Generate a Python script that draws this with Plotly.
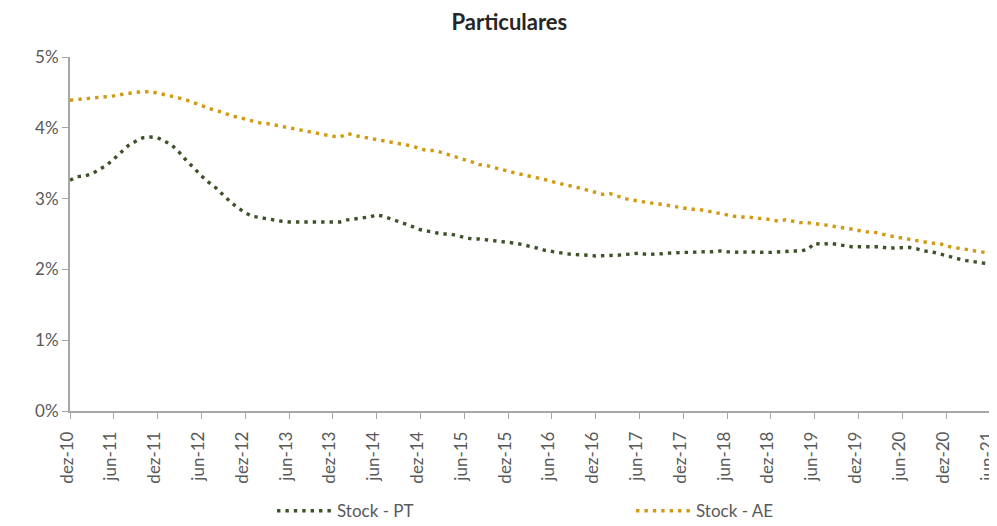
import plotly.graph_objects as go

# Monthly observations, dez-10 .. jun-21
months_pt = ["jan", "fev", "mar", "abr", "mai", "jun", "jul", "ago", "set", "out", "nov", "dez"]
start_year, start_month = 2010, 12
n_months = 127

stock_pt = [
    3.26, 3.31, 3.32, 3.35, 3.41, 3.47, 3.56, 3.65, 3.75, 3.81, 3.86, 3.87,
    3.86, 3.81, 3.75, 3.65, 3.53, 3.43, 3.32, 3.23, 3.15, 3.05, 2.95, 2.87,
    2.80, 2.75, 2.73, 2.72, 2.69, 2.68, 2.67, 2.67, 2.66, 2.66, 2.66, 2.66,
    2.66, 2.67, 2.70, 2.71, 2.72, 2.74, 2.77, 2.75, 2.71, 2.68, 2.64, 2.60,
    2.56, 2.54, 2.52, 2.50, 2.50, 2.48, 2.45, 2.43, 2.43, 2.42, 2.41, 2.40,
    2.38, 2.37, 2.35, 2.33, 2.30, 2.27, 2.25, 2.23, 2.22, 2.21, 2.21, 2.20,
    2.19, 2.19, 2.19, 2.20, 2.21, 2.22, 2.23, 2.21, 2.21, 2.22, 2.23, 2.24,
    2.24, 2.24, 2.25, 2.25, 2.25, 2.26, 2.25, 2.24, 2.24, 2.25, 2.24, 2.24,
    2.24, 2.25, 2.26, 2.26, 2.26, 2.28, 2.37, 2.35, 2.37, 2.35, 2.33, 2.32,
    2.32, 2.32, 2.33, 2.32, 2.30, 2.30, 2.31, 2.31, 2.29, 2.26, 2.25, 2.22,
    2.19, 2.16, 2.14, 2.12, 2.10, 2.09, 2.08,
]

stock_ae = [
    4.39, 4.40, 4.41, 4.42, 4.43, 4.43, 4.45, 4.47, 4.49, 4.50, 4.51, 4.51,
    4.49, 4.47, 4.45, 4.42, 4.39, 4.35, 4.32, 4.28, 4.24, 4.22, 4.17, 4.15,
    4.12, 4.09, 4.07, 4.06, 4.04, 4.02, 4.00, 3.97, 3.95, 3.93, 3.92, 3.89,
    3.88, 3.87, 3.92, 3.89, 3.87, 3.86, 3.84, 3.81, 3.79, 3.78, 3.76, 3.74,
    3.70, 3.68, 3.68, 3.65, 3.61, 3.58, 3.56, 3.52, 3.48, 3.47, 3.44, 3.42,
    3.39, 3.36, 3.34, 3.32, 3.29, 3.27, 3.24, 3.21, 3.19, 3.17, 3.14, 3.12,
    3.09, 3.06, 3.07, 3.03, 3.00, 2.98, 2.96, 2.94, 2.93, 2.92, 2.90, 2.89,
    2.86, 2.85, 2.85, 2.83, 2.80, 2.78, 2.77, 2.75, 2.74, 2.74, 2.72, 2.72,
    2.70, 2.68, 2.70, 2.68, 2.66, 2.66, 2.65, 2.63, 2.62, 2.60, 2.59, 2.57,
    2.55, 2.53, 2.53, 2.50, 2.48, 2.46, 2.44, 2.42, 2.40, 2.38, 2.37, 2.37,
    2.33, 2.31, 2.30, 2.28, 2.26, 2.24, 2.23,
]

categories = []
for i in range(n_months):
    mi = (start_month - 1 + i) % 12
    yr = start_year + (start_month - 1 + i) // 12
    categories.append(f"{months_pt[mi]}-{yr % 100:02d}")

tick_labels = categories[::6]
y_ticks = [0, 1, 2, 3, 4, 5]
y_tick_text = ["0%", "1%", "2%", "3%", "4%", "5%"]

font_family = "Lato, Open Sans, sans-serif"
grey = "#595959"

fig = go.Figure()
fig.add_trace(go.Scatter(
    x=categories, y=stock_pt, mode="lines", name="Stock - PT",
    line=dict(color="#3D5227", width=3.4, dash="3.4px,5px"),
))
fig.add_trace(go.Scatter(
    x=categories, y=stock_ae, mode="lines", name="Stock - AE",
    line=dict(color="#D09A12", width=3.4, dash="3.4px,5px"),
))

# The page body has an 8px default margin, so the figure is sized/offset for it.
fig.update_layout(
    width=989, height=518,
    margin=dict(l=62, r=7, t=49, b=115, autoexpand=False),
    paper_bgcolor="white", plot_bgcolor="white",
    font=dict(family=font_family, color=grey, size=15),
    title=dict(text="<b>Particulares</b>", x=0.507, xref="container", xanchor="center",
               y=0.972, yanchor="middle",
               font=dict(size=22, color="#262626", family=font_family)),
    showlegend=True,
    legend=dict(orientation="h", x=0.2196, xanchor="left", y=-0.283, yanchor="middle",
                entrywidth=289, entrywidthmode="pixels",
                font=dict(size=17, color=grey), itemwidth=55),
    xaxis=dict(
        type="category", range=[0, n_months - 1], automargin=False,
        tickmode="array", tickvals=tick_labels, ticktext=tick_labels,
        tickangle=-90, ticks="outside", ticklen=6, tickcolor="#A6A6A6",
        ticklabelstandoff=6, ticklabelshift=-3,
        showline=True, linecolor="#A6A6A6", linewidth=1.5,
        showgrid=False, zeroline=False,
        tickfont=dict(size=17, color=grey),
    ),
    yaxis=dict(
        range=[0, 5], automargin=False,
        tickmode="array", tickvals=y_ticks, ticktext=y_tick_text,
        ticks="outside", ticklen=6, tickcolor="#A6A6A6",
        showline=True, linecolor="#A6A6A6", linewidth=2,
        showgrid=False, zeroline=False,
        tickfont=dict(size=17, color=grey),
    ),
)

fig.write_html("out.html")
